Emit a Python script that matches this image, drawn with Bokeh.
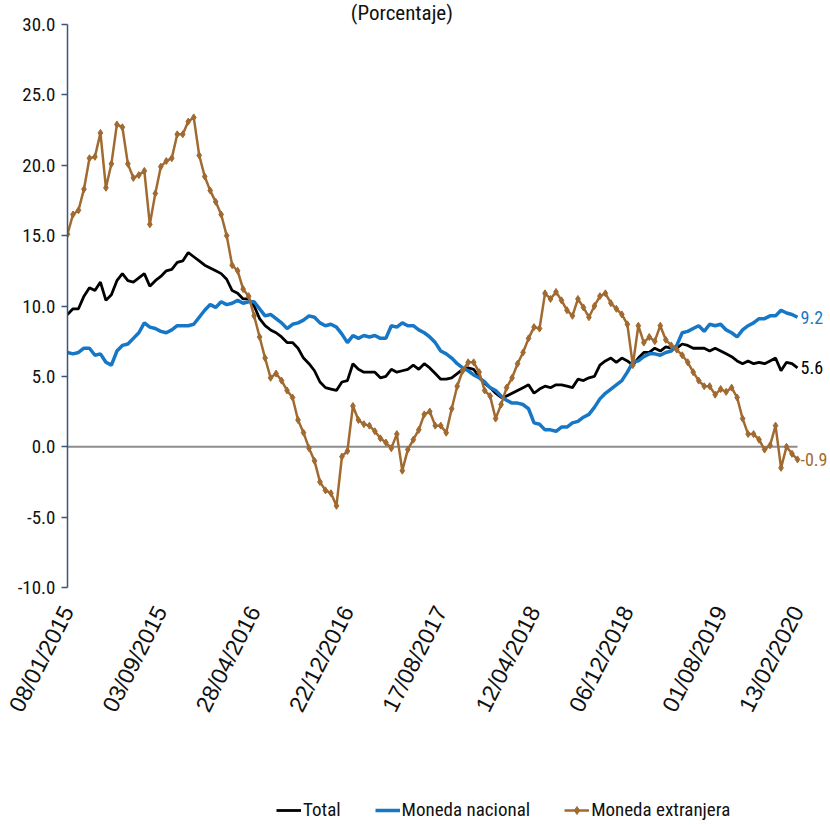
import math
import pandas as pd
from bokeh.plotting import figure
from bokeh.layouts import column
from bokeh.models import (Range1d, FixedTicker, DatetimeTickFormatter, NumeralTickFormatter,
                          Label, Legend, LegendItem)
from bokeh.embed import file_html
from bokeh.resources import INLINE

# ---------------- data ----------------
start_date = "2015-01-08"
n_points = 134
dates = pd.date_range(start_date, periods=n_points, freq="14D")

total = [
    9.4, 9.8, 9.8, 10.7, 11.3, 11.1, 11.7, 10.4, 10.8, 11.8,
    12.3, 11.8, 11.7, 12.0, 12.3, 11.4, 11.8, 12.1, 12.5, 12.6,
    13.1, 13.2, 13.8, 13.5, 13.2, 12.9, 12.7, 12.5, 12.3, 11.9,
    11.1, 10.9, 10.5, 10.5, 10.0, 9.1, 8.6, 8.3, 8.1, 7.8,
    7.4, 7.4, 7.0, 6.3, 5.9, 5.4, 4.6, 4.2, 4.1, 4.0,
    4.6, 4.7, 5.9, 5.5, 5.3, 5.3, 5.3, 4.9, 5.0, 5.5,
    5.3, 5.4, 5.5, 5.8, 5.5, 5.9, 5.6, 5.2, 4.8, 4.8,
    4.9, 5.2, 5.5, 5.6, 5.5, 5.0, 4.5, 4.2, 3.8, 3.5,
    3.6, 3.8, 4.0, 4.2, 4.4, 3.8, 4.1, 4.3, 4.2, 4.4,
    4.4, 4.3, 4.2, 4.8, 4.7, 4.9, 5.0, 5.8, 6.1, 6.3,
    6.0, 6.3, 6.1, 5.8, 6.3, 6.7, 6.7, 7.0, 6.8, 7.1,
    7.0, 7.0, 7.3, 7.2, 7.0, 7.0, 7.0, 6.8, 7.0, 6.8,
    6.6, 6.4, 6.1, 5.9, 6.1, 5.9, 6.0, 5.9, 6.1, 6.3,
    5.4, 6.0, 5.9, 5.6,
]

moneda_nacional = [
    6.7, 6.6, 6.7, 7.0, 7.0, 6.5, 6.6, 6.0, 5.8, 6.8,
    7.2, 7.3, 7.7, 8.1, 8.8, 8.5, 8.4, 8.2, 8.1, 8.3,
    8.6, 8.6, 8.6, 8.7, 9.2, 9.7, 10.1, 9.9, 10.3, 10.1,
    10.2, 10.4, 10.2, 10.3, 10.3, 9.8, 9.3, 9.4, 9.1, 8.8,
    8.4, 8.7, 8.8, 9.0, 9.3, 9.2, 8.8, 8.6, 8.7, 8.5,
    8.0, 7.4, 7.9, 7.7, 7.9, 7.8, 7.9, 7.7, 7.7, 8.6,
    8.5, 8.8, 8.6, 8.6, 8.3, 8.1, 7.8, 7.4, 6.8, 6.6,
    6.3, 5.9, 5.6, 5.4, 5.1, 4.9, 4.6, 4.2, 4.0, 3.6,
    3.3, 3.1, 3.1, 3.0, 2.7, 1.7, 1.6, 1.2, 1.2, 1.1,
    1.4, 1.4, 1.7, 1.8, 2.1, 2.3, 2.8, 3.4, 3.8, 4.1,
    4.4, 4.7, 5.3, 6.0, 6.1, 6.4, 6.6, 6.6, 6.5, 6.7,
    6.8, 7.2, 8.1, 8.2, 8.4, 8.6, 8.2, 8.7, 8.6, 8.7,
    8.3, 8.1, 7.8, 8.3, 8.6, 8.8, 9.1, 9.1, 9.3, 9.3,
    9.7, 9.5, 9.4, 9.2,
]

moneda_extranjera = [
    15.1, 16.5, 16.8, 18.3, 20.5, 20.6, 22.3, 18.4, 20.1, 22.9,
    22.7, 20.1, 19.1, 19.3, 19.6, 15.8, 18.0, 19.9, 20.3, 20.5,
    22.2, 22.2, 23.1, 23.4, 20.7, 19.2, 18.2, 17.4, 16.5, 15.0,
    12.9, 12.5, 11.2, 10.7, 9.3, 7.8, 6.3, 4.9, 5.2, 4.7,
    4.0, 3.5, 1.9, 1.0, -0.1, -1.0, -2.5, -3.1, -3.3, -4.2,
    -0.7, -0.3, 2.9, 1.9, 1.6, 1.5, 1.1, 0.6, 0.3, -0.1,
    0.9, -1.7, -0.2, 0.5, 1.2, 2.3, 2.5, 1.5, 1.5, 1.0,
    2.7, 4.3, 5.4, 6.0, 6.0, 5.3, 4.0, 3.6, 2.0, 3.0,
    4.2, 4.9, 5.9, 6.7, 7.7, 8.5, 8.4, 10.9, 10.5, 11.0,
    10.4, 9.7, 9.3, 10.5, 9.9, 9.2, 10.0, 10.7, 10.9, 10.2,
    9.8, 9.4, 8.7, 5.8, 8.6, 7.4, 7.8, 7.5, 8.6, 7.6,
    7.2, 6.9, 6.5, 6.0, 5.3, 4.7, 4.3, 4.3, 3.7, 4.1,
    3.9, 4.2, 3.5, 2.0, 0.9, 0.9, 0.5, -0.2, 0.1, 1.5,
    -1.5, 0.0, -0.5, -0.9,
]

tick_labels = ["08/01/2015", "03/09/2015", "28/04/2016", "22/12/2016", "17/08/2017",
               "12/04/2018", "06/12/2018", "01/08/2019", "13/02/2020"]
y_ticks = [-10, -5, 0, 5, 10, 15, 20, 25, 30]
y_min, y_max = -10, 30
series_names = ["Total", "Moneda nacional", "Moneda extranjera"]
title_text = "(Porcentaje)"

# ---------------- styling / layout ----------------
NARROW = "'Roboto Condensed', 'Liberation Sans Narrow', 'DejaVu Sans Condensed', sans-serif"
REGULAR = "'Liberation Sans', Arial, sans-serif"
C_TOTAL = "#000000"
C_NAC = "#1677C6"
C_EXT = "#A06A30"
AXIS_C = "#3E5479"
TXT = "#111111"

W = 830
H1, H2 = 730, 94
FRAME_LEFT = 67          # y axis position
PLOT_TOP = 24            # pixel of y = 30
PLOT_BOTTOM = 587        # pixel of y = -10
LAST_X = 797             # pixel of last date

px_per_unit = (PLOT_BOTTOM - PLOT_TOP) / (y_max - y_min)
y_top = y_max + PLOT_TOP / px_per_unit
t0 = dates[0].timestamp() * 1000
t1 = dates[-1].timestamp() * 1000
x_end = t0 + (t1 - t0) * (W - FRAME_LEFT) / (LAST_X - FRAME_LEFT)

p = figure(width=W, height=H1, x_axis_type="datetime", output_backend="svg",
           toolbar_location=None, min_border_left=FRAME_LEFT, min_border_right=0,
           min_border_top=0, min_border_bottom=H1 - PLOT_BOTTOM)
p.x_range = Range1d(t0, x_end)
p.y_range = Range1d(y_min, y_top)
p.outline_line_color = None
p.grid.visible = False
p.background_fill_color = "white"
p.border_fill_color = "white"

# zero line (category axis of the original)
p.line([dates[0], dates[-1]], [0, 0], line_color="#8C8C8C", line_width=2)

STYLE_TOT = dict(line_color=C_TOTAL, line_width=2.8)
STYLE_NAC = dict(line_color=C_NAC, line_width=3.5)
STYLE_EXT = dict(line_color=C_EXT, line_width=2.5)
STYLE_EXT_M = dict(marker="diamond", size=7, fill_color=C_EXT, line_color=C_EXT)

r_tot = p.line(dates, total, **STYLE_TOT)
r_nac = p.line(dates, moneda_nacional, **STYLE_NAC)
r_ext = p.line(dates, moneda_extranjera, **STYLE_EXT)
r_ext_m = p.scatter(dates, moneda_extranjera, **STYLE_EXT_M)

# y axis
ya = p.yaxis[0]
ya.ticker = FixedTicker(ticks=y_ticks)
ya.formatter = NumeralTickFormatter(format="0.0")
ya.bounds = (y_min, y_max)
ya.axis_line_color = AXIS_C
ya.axis_line_width = 1.5
ya.major_tick_line_color = AXIS_C
ya.major_tick_line_width = 1.5
ya.major_tick_out = 6
ya.major_tick_in = 0
ya.minor_tick_line_color = None
ya.major_label_standoff = 6
ya.major_label_text_font = NARROW
ya.major_label_text_font_size = "19px"
ya.major_label_text_color = TXT

# x axis
tick_dates = pd.to_datetime(tick_labels, format="%d/%m/%Y")
tick_ms = [t.timestamp() * 1000 for t in tick_dates]
xa = p.xaxis[0]
xa.ticker = FixedTicker(ticks=tick_ms)
fmt = "%d/%m/%Y"
xa.formatter = DatetimeTickFormatter(milliseconds=fmt, seconds=fmt, minsec=fmt, minutes=fmt,
                                     hourmin=fmt, hours=fmt, days=fmt, months=fmt, years=fmt)
xa.axis_line_color = None
xa.major_tick_line_color = None
xa.minor_tick_line_color = None
xa.major_label_orientation = math.radians(63)
xa.major_label_standoff = 14
xa.major_label_text_font = REGULAR
xa.major_label_text_font_size = "23px"
xa.major_label_text_color = TXT

# end labels
for vals, col in [(moneda_nacional, C_NAC), (total, C_TOTAL), (moneda_extranjera, C_EXT)]:
    p.add_layout(Label(x=t1, y=vals[-1], x_offset=3, text=f"{vals[-1]:.1f}",
                       text_baseline="middle", text_align="left", text_color=col,
                       text_font=NARROW, text_font_size="18px"))

# title
p.add_layout(Label(x=t0 + 0.458 * (t1 - t0), y=y_top, text=title_text,
                   text_align="center", text_baseline="top",
                   text_font=NARROW, text_font_size="21px", text_color=TXT))

# legend figure (same series, kept outside its visible range so only the legend shows)
p2 = figure(width=W, height=H2, output_backend="svg", toolbar_location=None,
            x_axis_location=None, y_axis_location=None, min_border=0,
            x_range=Range1d(0, 1), y_range=Range1d(0, 1))
p2.outline_line_color = None
p2.grid.visible = False
l_tot = p2.line(dates, total, **STYLE_TOT)
l_nac = p2.line(dates, moneda_nacional, **STYLE_NAC)
l_ext = p2.line(dates, moneda_extranjera, **STYLE_EXT)
l_ext_m = p2.scatter(dates, moneda_extranjera, **STYLE_EXT_M)
legend = Legend(items=[LegendItem(label=series_names[0], renderers=[l_tot]),
                       LegendItem(label=series_names[1], renderers=[l_nac]),
                       LegendItem(label=series_names[2], renderers=[l_ext, l_ext_m])],
                location=(209, 3), orientation="horizontal",
                padding=0, margin=0, spacing=34, glyph_width=25, glyph_height=20,
                label_standoff=2, label_text_font=NARROW, label_text_font_size="19px",
                label_text_color=TXT, border_line_color=None,
                background_fill_alpha=0)
p2.add_layout(legend, "center")

layout = column(p, p2, spacing=0)
open("out.html", "w").write(file_html(layout, INLINE))
